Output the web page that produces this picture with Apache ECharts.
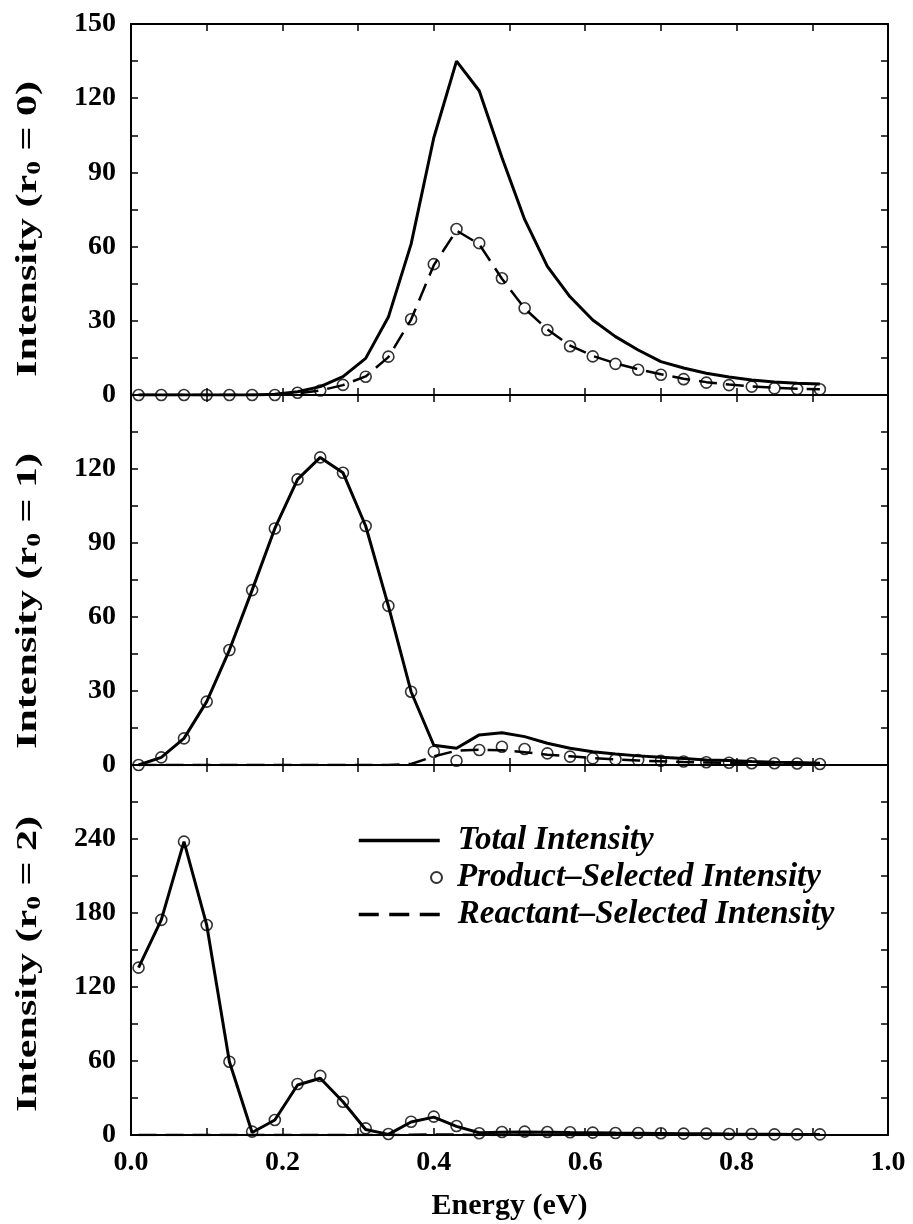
<!DOCTYPE html>
<html>
<head>
<meta charset="utf-8">
<title>Intensity vs Energy</title>
<script src="https://cdn.jsdelivr.net/npm/echarts@6/dist/echarts.min.js"></script>
<style>
  html, body { margin: 0; padding: 0; background: #fff; }
  #chart { width: 913px; height: 1224px; }
</style>
</head>
<body>
<div id="chart"></div>
<script>
// Collision energies (eV) shared by all three panels
const energy = [0.01, 0.04, 0.07, 0.10, 0.13, 0.16, 0.19, 0.22, 0.25, 0.28, 0.31,
                0.34, 0.37, 0.40, 0.43, 0.46, 0.49, 0.52, 0.55, 0.58, 0.61,
                0.64, 0.67, 0.70, 0.73, 0.76, 0.79, 0.82, 0.85, 0.88, 0.91];

// r0 = 0
const totalR0 = [0, 0, 0, 0, 0, 0, 0.3, 1.3, 3.4, 7.4, 14.8, 31.5, 61, 104, 135, 123,
                 96, 71, 52, 39.7, 30.3, 23.6, 18.2, 13.5, 10.9, 8.8, 7.3, 6.1, 5.3, 4.8, 4.4];
const productR0 = [0, 0, 0, 0, 0, 0, 0, 0.9, 1.8, 4.1, 7.4, 15.5, 30.6, 52.9, 67.1, 61.4,
                   47.2, 35.1, 26.3, 19.7, 15.6, 12.6, 10.2, 8.2, 6.4, 5.0, 4.0, 3.4, 2.7, 2.4, 2.3];
const reactantR0 = [0, 0, 0, 0, 0, 0, 0, 0.7, 1.8, 4.0, 7.5, 15.3, 30.5, 52.5, 66.5, 61.0,
                    47.0, 35.0, 26.5, 20.0, 15.8, 12.8, 10.4, 8.4, 6.6, 5.2, 4.2, 3.5, 2.9, 2.5, 2.3];

// r0 = 1
const totalR1 = [0, 3.1, 10.8, 25.7, 46.6, 70.9, 95.9, 115.8, 124.7, 118.5, 96.9, 64.5, 29.7,
                 8.0, 6.8, 12.2, 13.1, 11.5, 8.8, 6.8, 5.4, 4.5, 3.7, 3.1, 2.6, 2.0, 1.8, 1.4, 1.1, 1.0, 0.7];
const productR1 = [0, 3.1, 10.8, 25.7, 46.6, 70.9, 95.9, 115.8, 124.7, 118.5, 96.9, 64.5, 29.7,
                   5.4, 1.7, 6.1, 7.4, 6.5, 4.7, 3.4, 2.7, 2.3, 2.0, 1.7, 1.4, 1.1, 0.9, 0.7, 0.7, 0.6, 0.4];
const reactantR1 = [0, 0, 0, 0, 0, 0, 0, 0, 0, 0, 0, 0, 0.4, 3.5, 5.8, 6.2, 6.0, 5.2, 4.2,
                    3.5, 2.8, 2.3, 1.8, 1.5, 1.2, 1.0, 0.8, 0.7, 0.5, 0.4, 0.3];

// r0 = 2
const totalR2 = [135.7, 174.4, 237.9, 170.3, 59.4, 2.0, 12.2, 40.5, 46.0, 27.0, 4.5, 0.5, 10.5,
                 14.5, 7.0, 1.8, 2.2, 2.5, 2.3, 2.0, 1.8, 1.6, 1.5, 1.3, 1.1, 1.0, 0.8, 0.7, 0.6, 0.5, 0.5];
const productR2 = [135.7, 174.4, 237.9, 170.3, 59.4, 2.7, 12.2, 41.4, 47.9, 27.0, 5.4, 0.8, 10.8,
                   14.9, 7.3, 1.4, 2.4, 2.7, 2.4, 2.2, 1.9, 1.6, 1.6, 1.4, 1.1, 1.1, 0.8, 0.8, 0.5, 0.5, 0.5];
const reactantR2 = [0, 0, 0, 0, 0, 0, 0, 0, 0, 0, 0, 0, 0.2, 0.4, 0.3, 0.1, 0, 0, 0, 0, 0,
                    0, 0, 0, 0, 0, 0, 0, 0, 0, 0];

// Axis settings per panel
const yMax = [150, 150, 300];
const yStep = [30, 30, 60];
const panelLabels = ['0', '1', '2'];

const totals = [totalR0, totalR1, totalR2];
const products = [productR0, productR1, productR2];
const reactants = [reactantR0, reactantR1, reactantR2];

const NAME_TOTAL = 'Total Intensity';
const NAME_PRODUCT = 'Product\u2013Selected Intensity';
const NAME_REACTANT = 'Reactant\u2013Selected Intensity';

const SERIF = '"Liberation Serif", "Times New Roman", serif';
const INK = '#000';
const CLEAR = 'rgba(0,0,0,0)';

const pairs = ys => energy.map((x, i) => [x, ys[i]]);

const grids = [
  { left: 131, right: 25, top: 24, height: 371 },
  { left: 131, right: 25, top: 395, height: 370 },
  { left: 131, right: 25, top: 765, height: 370 }
];

const frameLine = { show: true, onZero: false, lineStyle: { color: INK, width: 2 } };
const tick = { show: true, inside: true, length: 7, lineStyle: { color: INK, width: 1.5 } };
const minor = { show: true, splitNumber: 2, length: 7, lineStyle: { color: INK, width: 1.5 } };

const xAxes = [];
const yAxes = [];
for (let k = 0; k < 3; k++) {
  const isLast = k === 2;
  xAxes.push({
    type: 'value', gridIndex: k, position: 'bottom', min: 0, max: 1, interval: 0.2,
    axisLine: frameLine, axisTick: tick, minorTick: minor, splitLine: { show: false },
    axisLabel: {
      show: isLast, margin: 14, color: INK, fontFamily: SERIF, fontWeight: 'bold', fontSize: 28,
      formatter: v => v.toFixed(1)
    },
    name: isLast ? 'Energy (eV)' : '',
    nameLocation: 'middle', nameGap: 56,
    nameTextStyle: { color: INK, fontFamily: SERIF, fontWeight: 'bold', fontSize: 30 }
  });
}
for (let k = 0; k < 3; k++) {
  xAxes.push({
    type: 'value', gridIndex: k, position: 'top', min: 0, max: 1, interval: 0.2,
    axisLine: frameLine, axisTick: tick, minorTick: minor, splitLine: { show: false },
    axisLabel: { show: false }
  });
}
for (let k = 0; k < 3; k++) {
  yAxes.push({
    type: 'value', gridIndex: k, position: 'left', min: 0, max: yMax[k], interval: yStep[k],
    axisLine: frameLine, axisTick: tick, minorTick: minor, splitLine: { show: false },
    axisLabel: {
      show: true, margin: 15, color: INK, fontFamily: SERIF, fontWeight: 'bold', fontSize: 28,
      showMaxLabel: k === 0
    }
  });
}
for (let k = 0; k < 3; k++) {
  yAxes.push({
    type: 'value', gridIndex: k, position: 'right', min: 0, max: yMax[k], interval: yStep[k],
    axisLine: frameLine, axisTick: tick, minorTick: minor, splitLine: { show: false },
    axisLabel: { show: false }
  });
}

const series = [];
for (let k = 0; k < 3; k++) {
  series.push({
    type: 'line', name: NAME_REACTANT, xAxisIndex: k, yAxisIndex: k,
    data: pairs(reactants[k]), symbol: 'none', z: 2,
    lineStyle: { color: INK, width: 2.5, type: [18, 9] }, itemStyle: { color: INK }
  });
  series.push({
    type: 'line', name: NAME_TOTAL, xAxisIndex: k, yAxisIndex: k,
    data: pairs(totals[k]), symbol: 'none', z: 3,
    lineStyle: { color: INK, width: 3 }, itemStyle: { color: INK }
  });
  series.push({
    type: 'scatter', name: NAME_PRODUCT, xAxisIndex: k, yAxisIndex: k,
    data: pairs(products[k]), symbol: 'circle', symbolSize: 11, z: 4,
    itemStyle: { color: CLEAR, borderColor: INK, borderWidth: 1.6 }
  });
}

const legendText = {
  color: INK, fontFamily: SERIF, fontStyle: 'italic', fontWeight: 'bold', fontSize: 33
};
// Line-sample legends: hide the marker that the line icon carries
const noMarker = { color: CLEAR, borderColor: CLEAR, borderWidth: 0, opacity: 0 };
const legends = [
  { data: [NAME_TOTAL], left: 357, top: 824, itemWidth: 81, itemHeight: 14, itemStyle: noMarker,
    lineStyle: { color: INK, width: 3.5, type: 'solid' },
    textStyle: Object.assign({ padding: [0, 0, 0, 13] }, legendText) },
  { data: [NAME_PRODUCT], left: 430, top: 861, itemWidth: 11, itemHeight: 11,
    textStyle: Object.assign({ padding: [0, 0, 0, 10] }, legendText) },
  { data: [NAME_REACTANT], left: 357, top: 898, itemWidth: 81, itemHeight: 14, itemStyle: noMarker,
    lineStyle: { color: INK, width: 3.5, type: [20, 10.5] },
    textStyle: Object.assign({ padding: [0, 0, 0, 13] }, legendText) }
].map(l => Object.assign({ orient: 'horizontal', selectedMode: false, padding: 0 }, l));

// Rotated axis titles, one per panel, with a subscripted zero
const titleCenters = [229, 601, 964];
const graphics = panelLabels.map((lab, k) => ({
  type: 'text', x: 29, y: titleCenters[k], rotation: Math.PI / 2, scaleX: 1.45,
  style: {
    text: '{a|Intensity (r}{s|0}{a| = ' + lab + ')}',
    align: 'center', verticalAlign: 'middle', fill: INK,
    rich: {
      a: { fontFamily: SERIF, fontWeight: 'bold', fontSize: 29, lineHeight: 31, fill: INK },
      s: { fontFamily: SERIF, fontWeight: 'bold', fontSize: 19, lineHeight: 14,
           verticalAlign: 'bottom', fill: INK }
    }
  }
}));

const chart = echarts.init(document.getElementById('chart'), null, { renderer: 'canvas' });
chart.setOption({
  animation: false,
  backgroundColor: '#fff',
  grid: grids,
  xAxis: xAxes,
  yAxis: yAxes,
  legend: legends,
  graphic: graphics,
  series: series
});
</script>
</body>
</html>
